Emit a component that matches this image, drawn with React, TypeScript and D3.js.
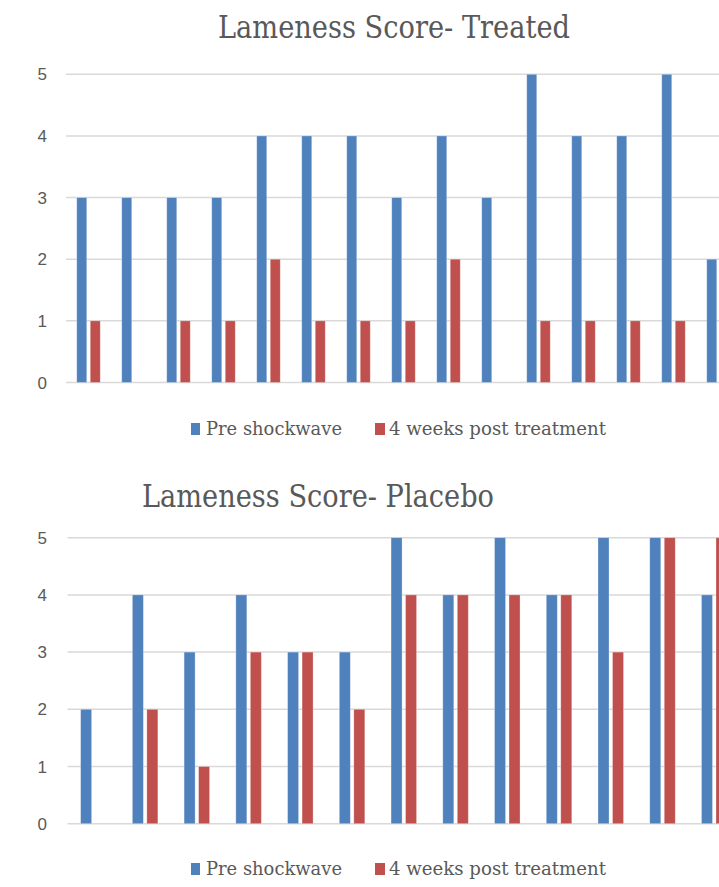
import React from "react";
import * as d3 from "d3";

const treatedHorses = ["1","2","3","4","5","6","7","8","9","10","11","12","13","14","15"];
const treatedPre = [3,3,3,3,4,4,4,3,4,3,5,4,4,5,2];
const treatedPost = [1,0,1,1,2,1,1,1,2,0,1,1,1,1,3];

const placeboHorses = ["1","2","3","4","5","6","7","8","9","10","11","12","13"];
const placeboPre = [2,4,3,4,3,3,5,4,5,4,5,5,4];
const placeboPost = [0,2,1,3,3,2,4,4,4,4,3,5,5];

const yTicks = [0,1,2,3,4,5];
const seriesNames = ["Pre shockwave", "4 weeks post treatment"];
const titles = ["Lameness Score- Treated", "Lameness Score- Placebo"];

const BLUE = "#4f81bd";
const RED = "#c0504d";
const GRID = "#d9d9d9";
const TEXT = "#595959";
const SERIF = "'DejaVu Serif', serif";
const SANS = "'Liberation Sans', Arial, sans-serif";

type PanelProps = {
  title: string;
  titleX: number;
  titleY: number;
  cats: string[];
  pre: number[];
  post: number[];
  x0: number;
  band: number;
  yTop: number;
  yBottom: number;
  barW: number;
  gap: number;
  legendY: number;
  id: string;
};

function Panel(p: PanelProps) {
  const x = d3.scaleBand<string>().domain(p.cats).range([p.x0, p.x0 + p.cats.length * p.band]).padding(0);
  const y = d3.scaleLinear().domain([0, 5]).range([p.yBottom, p.yTop]);
  return (
    <g>
      <text x={p.titleX} y={p.titleY} fontFamily={SERIF} fontSize={31.5} fill={TEXT}
        textLength={352} lengthAdjust="spacingAndGlyphs">{p.title}</text>
      {yTicks.map((t) => (
        <g key={t}>
          <line x1={p.x0} x2={719} y1={y(t)} y2={y(t)} stroke={GRID} strokeWidth={1.5} />
          <text x={47} y={y(t)} dy="0.36em" textAnchor="end" fontFamily={SANS} fontSize={17} fill={TEXT}>{t}</text>
        </g>
      ))}
      {p.cats.map((c, i) => {
        const cx = (x(c) as number) + x.bandwidth() / 2;
        return (
          <g key={c}>
            {p.pre[i] > 0 && (
              <rect x={cx - p.gap / 2 - p.barW} y={y(p.pre[i])} width={p.barW}
                height={y(0) - y(p.pre[i])} fill={BLUE} stroke="#ffffff" strokeOpacity={0.35} strokeWidth={0.8} />
            )}
            {p.post[i] > 0 && (
              <rect x={cx + p.gap / 2} y={y(p.post[i])} width={p.barW}
                height={y(0) - y(p.post[i])} fill={RED} stroke="#ffffff" strokeOpacity={0.35} strokeWidth={0.8} />
            )}
          </g>
        );
      })}
      <g>
        <rect x={191} y={p.legendY - 12} width={9} height={12} fill={BLUE} />
        <text x={206} y={p.legendY} fontFamily={SERIF} fontSize={19} fill={TEXT}
          textLength={136} lengthAdjust="spacingAndGlyphs">{seriesNames[0]}</text>
        <rect x={375} y={p.legendY - 12} width={10} height={12} fill={RED} />
        <text x={389} y={p.legendY} fontFamily={SERIF} fontSize={19} fill={TEXT}
          textLength={217} lengthAdjust="spacingAndGlyphs">{seriesNames[1]}</text>
      </g>
    </g>
  );
}

export default function App() {
  return (
    <svg width={719} height={887} viewBox="0 0 719 887"
      style={{ position: "absolute", left: 0, top: 0, display: "block", background: "#ffffff" }}>
      <rect x={0} y={0} width={719} height={887} fill="#ffffff" />
      <Panel id="t" title={titles[0]} titleX={218} titleY={38} cats={treatedHorses}
        pre={treatedPre} post={treatedPost} x0={66} band={45} yTop={74.3} yBottom={382.5}
        barW={10} gap={3.5} legendY={435} />
      <Panel id="p" title={titles[1]} titleX={142} titleY={507} cats={placeboHorses}
        pre={placeboPre} post={placeboPost} x0={67.5} band={51.74} yTop={537.7} yBottom={823.7}
        barW={11} gap={3.5} legendY={875} />
    </svg>
  );
}
